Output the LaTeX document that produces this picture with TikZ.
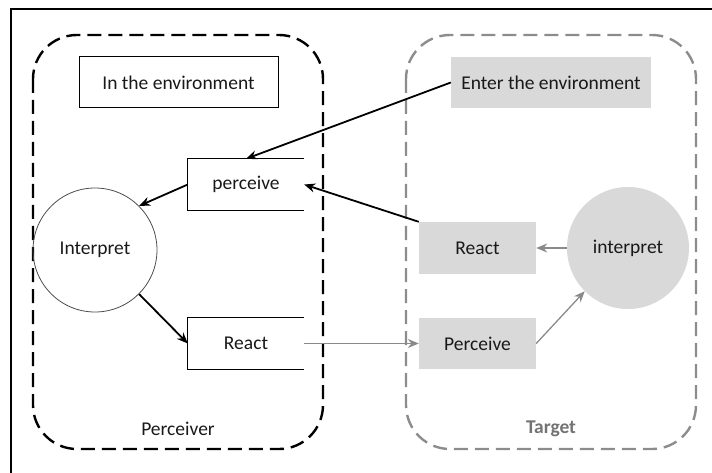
\documentclass[tikz,border=0pt]{standalone}
\usepackage{fontspec}
\setmainfont{Carlito}
\usetikzlibrary{arrows.meta}
\definecolor{boxgray}{HTML}{D9D9D9}
\definecolor{dashgray}{HTML}{8C8C8C}
\definecolor{arrgray}{HTML}{8A8A8A}
\tikzset{
  every node/.style={font=\fontsize{19.5}{21}\selectfont, text=black!90},
  group/.style={dash pattern=on 14pt off 7pt, line width=2.4pt, rounded corners=44pt},
  plainbox/.style={draw, line width=1pt, minimum width=199pt, minimum height=51pt, inner sep=0pt},
  openbox/.style={minimum width=116pt, minimum height=51pt, inner sep=0pt},
  graybox/.style={fill=boxgray, minimum width=117pt, minimum height=52pt, inner sep=0pt},
  blk/.style={line width=1.8pt, -{Stealth[length=11pt,width=9pt]}},
  gry/.style={draw=arrgray, line width=1.3pt, -{Stealth[length=11pt,width=9pt]}, arrgray},
}
\begin{document}
\begin{tikzpicture}[x=1pt,y=-1pt]
\useasboundingbox (0,0) rectangle (712,473);
% frame (top and left edges)
\draw[line width=1.6pt] (11,473) -- (11,9) -- (712,9);
% groups
\draw[group] (33,35) rectangle (323,449);
\draw[group, dashgray] (406,35) rectangle (696,449);
% perceiver side
\node[plainbox] (envL) at (178.5,82.5) {In the environment};
\node[openbox] (percL) at (246,184.5) {perceive};
\draw[line width=1pt] (percL.north east) -- (percL.north west) -- (percL.south west) -- (percL.south east);
\node[openbox] (reactL) at (246,343.5) {React};
\draw[line width=1pt] (reactL.north east) -- (reactL.north west) -- (reactL.south west) -- (reactL.south east);
\node[circle, draw=black!70, line width=0.8pt, minimum size=124pt, inner sep=0pt] (interpL) at (95,250) {Interpret};
\node (lblL) at (178,429) {Perceiver};
% target side
\node[graybox, minimum width=200pt, minimum height=51pt] (envR) at (551,82.5) {Enter the environment};
\node[graybox] (reactR) at (477.5,248) {React};
\node[graybox, minimum height=51pt] (percR) at (477.5,343.5) {Perceive};
\node[circle, fill=boxgray, minimum size=122pt, inner sep=0pt] (interpR) at (628,248) {interpret};
\node[font=\fontsize{19.5}{21}\selectfont\bfseries, text=black!55] (lblR) at (551,429) {Target};
% connectors
\draw[blk] (envR.west) -- (percL.north);
\draw[blk] (reactR.north west) -- (percL.east);
\draw[blk] (percL.west) -- (interpL.45);
\draw[blk] (interpL.-45) -- (reactL.west);
\draw[gry] (reactL.east) -- (percR.west);
\draw[gry] (interpR.west) -- (reactR.east);
\draw[gry] (percR.east) -- (interpR.225);
\end{tikzpicture}
\end{document}
